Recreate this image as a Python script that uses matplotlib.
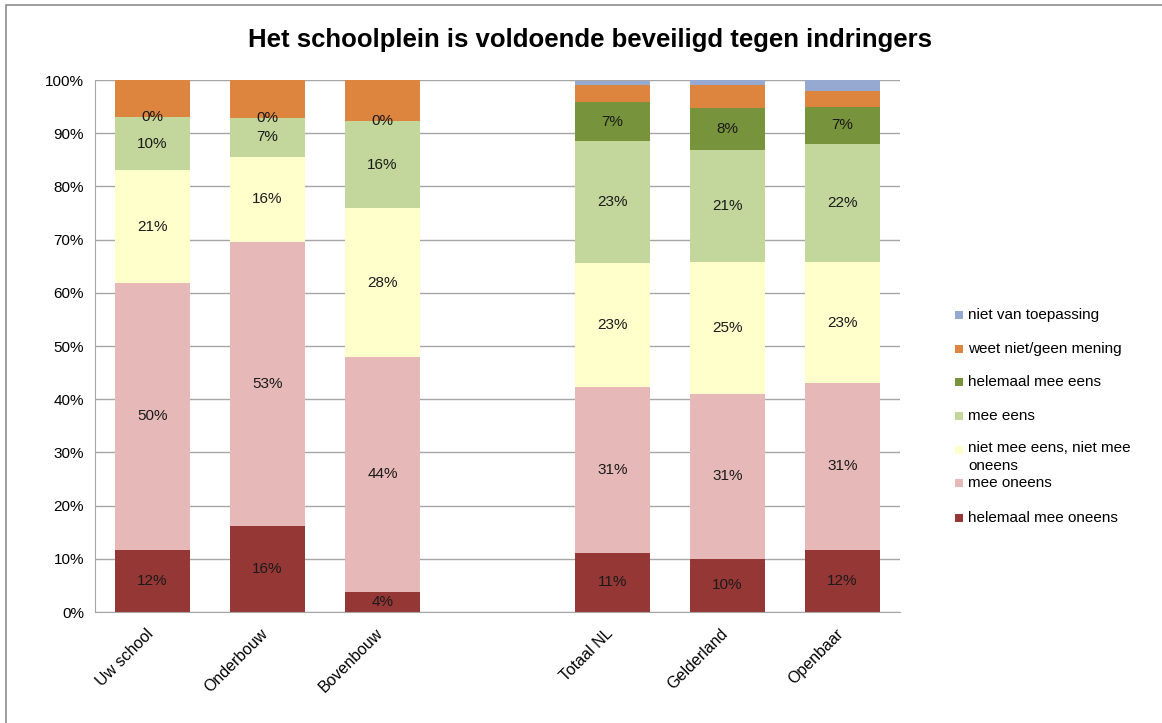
import matplotlib
matplotlib.use("Agg")
import matplotlib.pyplot as plt
from matplotlib.patches import Rectangle
import numpy as np

plt.rcParams['font.family'] = ['Liberation Sans', 'DejaVu Sans']

categories = ["Uw school", "Onderbouw", "Bovenbouw", "", "Totaal NL", "Gelderland", "Openbaar"]
series_names = ["helemaal mee oneens", "mee oneens", "niet mee eens, niet mee\noneens",
                "mee eens", "helemaal mee eens", "weet niet/geen mening", "niet van toepassing"]
helemaal_oneens = [11.7, 16.2, 3.8, 0, 11.1, 10.0, 11.7]
mee_oneens      = [50.2, 53.4, 44.1, 0, 31.2, 31.0, 31.3]
neutraal        = [21.1, 16.0, 28.0, 0, 23.3, 24.8, 22.8]
mee_eens        = [10.0, 7.2, 16.3, 0, 22.9, 21.0, 22.2]
helemaal_eens   = [0.0, 0.0, 0.0, 0, 7.3, 8.0, 7.0]
weet_niet       = [7.0, 7.2, 7.8, 0, 3.2, 4.3, 2.9]
nvt             = [0.0, 0.0, 0.0, 0, 0.9, 0.9, 2.1]
labels_shown    = [True, True, True, True, True, False, False]
colors = ["#953735", "#E6B9B8", "#FFFFCC", "#C3D69B", "#77933C", "#DD843F", "#95A9D1"]

data = [helemaal_oneens, mee_oneens, neutraal, mee_eens, helemaal_eens, weet_niet, nvt]
real = [i for i, c in enumerate(categories) if c]

fig = plt.figure(figsize=(11.62, 7.23), dpi=100)
ax = fig.add_axes([95/1162, 1 - 612/723, 805/1162, 532/723])

x = np.arange(len(categories))
bottom = np.zeros(len(categories))
for vals, name, col, show in zip(data, series_names, colors, labels_shown):
    v = np.array(vals, dtype=float) / 100
    ax.bar(x, v, bottom=bottom, width=0.66, color=col, label=name, zorder=3)
    if show:
        for i in real:
            ax.text(x[i], bottom[i] + v[i] / 2, f"{round(vals[i]):.0f}%", ha='center', va='center',
                    fontsize=11, color='#1a1a1a', zorder=4)
    bottom += v

ax.set_xlim(-0.5, len(categories) - 0.5)
ax.set_ylim(0, 1)
ticks = np.arange(0, 1.01, 0.1)
ax.set_yticks(ticks)
ax.set_yticklabels([f"{int(round(t*100))}%" for t in ticks], fontsize=11)
ax.set_xticks(x - 0.06)
ax.set_xticklabels(categories, rotation=45, ha='right', rotation_mode='anchor', fontsize=11.5)
ax.tick_params(axis='x', length=0, pad=10)
ax.tick_params(axis='y', length=0, pad=8)
ax.yaxis.grid(True, color='#A6A6A6', linewidth=1, zorder=0)
for s in ['top', 'right']:
    ax.spines[s].set_visible(False)
for s in ['left', 'bottom']:
    ax.spines[s].set_color('#A6A6A6')
    ax.spines[s].set_zorder(5)

fig.text(590/1162, 1 - 40/723, "Het schoolplein is voldoende beveiligd tegen indringers",
         ha='center', va='center', fontsize=18.5, fontweight='bold')

# legend (reverse order)
leg_y = [315, 349, 382, 416, 450, 483, 518]
for k, idx in enumerate(range(len(series_names) - 1, -1, -1)):
    y = leg_y[k]
    name = series_names[idx]
    fig.patches.append(Rectangle((955/1162, 1 - (y + 4)/723), 8/1162, 8/723,
                                 transform=fig.transFigure, facecolor=colors[idx], edgecolor='none'))
    if '\n' in name:
        fig.text(968/1162, 1 - (y - 9)/723, name, ha='left', va='top', fontsize=11, linespacing=1.4)
    else:
        fig.text(968/1162, 1 - y/723, name, ha='left', va='center', fontsize=11)

fig.patches.append(Rectangle((6/1162, -0.1), 1.2, 1 - 5/723 + 0.1, transform=fig.transFigure,
                             facecolor='none', edgecolor='#8C8C8C', linewidth=1.2))

fig.savefig("out.png", dpi=100)
